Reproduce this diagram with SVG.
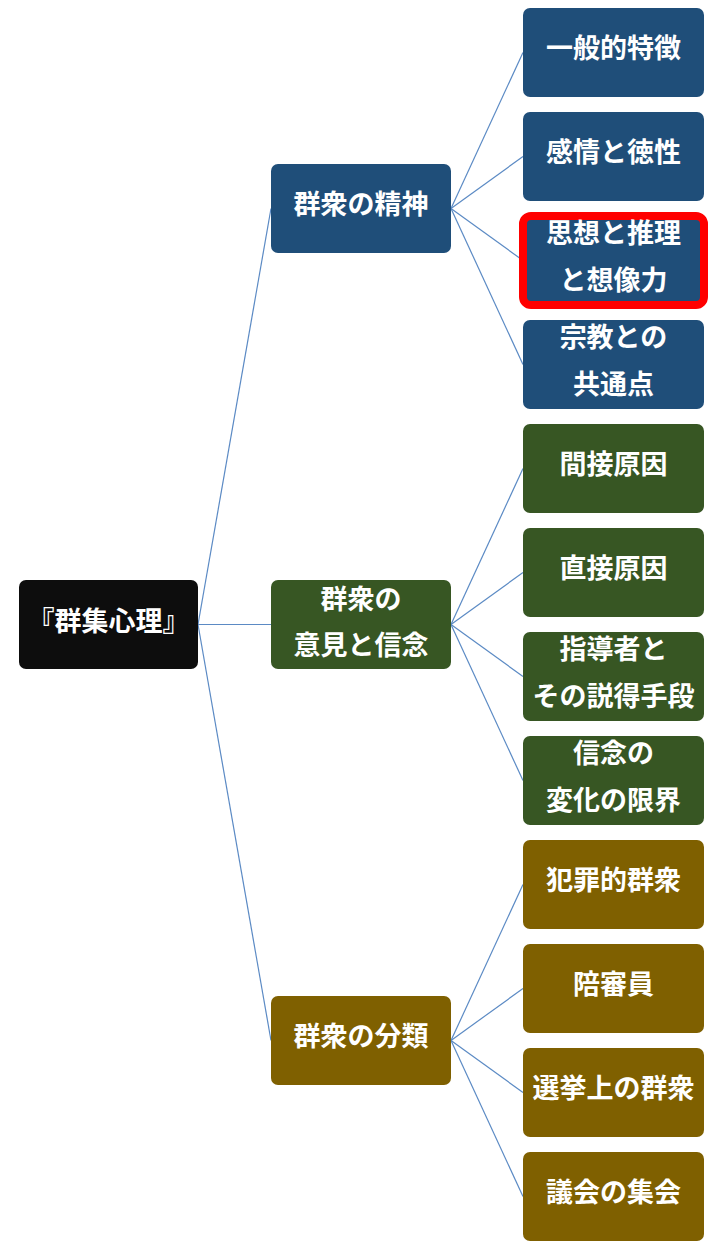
<svg xmlns="http://www.w3.org/2000/svg" width="721" height="1248" viewBox="0 0 721 1248">
<style>
.t{font-family:"Noto Sans CJK JP","Noto Sans CJK SC",sans-serif;font-weight:bold;font-size:27px;fill:#ffffff;text-anchor:middle}
.blue{fill:#1f4e79}
.green{fill:#375623}
.gold{fill:#7f6000}
.root{fill:#0d0d0d}
.c line{stroke:#5b8ac4;stroke-width:1.2}
</style>
<rect width="721" height="1248" fill="#ffffff"/>
<g class="c" id="connectors">
<line x1="198" y1="624.5" x2="271" y2="208.5"/>
<line x1="198" y1="624.5" x2="271" y2="624.5"/>
<line x1="198" y1="624.5" x2="271" y2="1040.5"/>
<line x1="451" y1="208.5" x2="523" y2="52.5"/>
<line x1="451" y1="208.5" x2="523" y2="156.5"/>
<line x1="451" y1="208.5" x2="523" y2="260.5"/>
<line x1="451" y1="208.5" x2="523" y2="364.5"/>
<line x1="451" y1="624.5" x2="523" y2="468.5"/>
<line x1="451" y1="624.5" x2="523" y2="572.5"/>
<line x1="451" y1="624.5" x2="523" y2="676.5"/>
<line x1="451" y1="624.5" x2="523" y2="780.5"/>
<line x1="451" y1="1040.5" x2="523" y2="884.5"/>
<line x1="451" y1="1040.5" x2="523" y2="988.5"/>
<line x1="451" y1="1040.5" x2="523" y2="1092.5"/>
<line x1="451" y1="1040.5" x2="523" y2="1196.5"/>
</g>
<g id="root"><rect class="root" x="19" y="580" width="179" height="89" rx="7"/><text class="t" x="108.5" y="631">『群集心理』</text></g>
<g id="n1"><rect class="blue" x="271" y="164" width="180" height="89" rx="7"/><text class="t" x="361" y="214">群衆の精神</text></g>
<g id="n2"><rect class="green" x="271" y="580" width="180" height="89" rx="7"/><text class="t" x="361" y="609">群衆の</text><text class="t" x="361" y="655">意見と信念</text></g>
<g id="n3"><rect class="gold" x="271" y="996" width="180" height="89" rx="7"/><text class="t" x="361" y="1046">群衆の分類</text></g>
<g id="a1"><rect class="blue" x="523" y="8" width="181" height="89" rx="7"/><text class="t" x="613.5" y="58">一般的特徴</text></g>
<g id="a2"><rect class="blue" x="523" y="112" width="181" height="89" rx="7"/><text class="t" x="613.5" y="162">感情と徳性</text></g>
<g id="a3"><rect class="blue" x="523" y="216" width="181" height="89" rx="8" stroke="#ff0000" stroke-width="8"/><text class="t" x="613.5" y="243">思想と推理</text><text class="t" x="613.5" y="290">と想像力</text></g>
<g id="a4"><rect class="blue" x="523" y="320" width="181" height="89" rx="7"/><text class="t" x="613.5" y="347">宗教との</text><text class="t" x="613.5" y="394">共通点</text></g>
<g id="b1"><rect class="green" x="523" y="424" width="181" height="89" rx="7"/><text class="t" x="613.5" y="474">間接原因</text></g>
<g id="b2"><rect class="green" x="523" y="528" width="181" height="89" rx="7"/><text class="t" x="613.5" y="578">直接原因</text></g>
<g id="b3"><rect class="green" x="523" y="632" width="181" height="89" rx="7"/><text class="t" x="613.5" y="659">指導者と</text><text class="t" x="613.5" y="706">その説得手段</text></g>
<g id="b4"><rect class="green" x="523" y="736" width="181" height="89" rx="7"/><text class="t" x="613.5" y="763">信念の</text><text class="t" x="613.5" y="810">変化の限界</text></g>
<g id="c1"><rect class="gold" x="523" y="840" width="181" height="89" rx="7"/><text class="t" x="613.5" y="890">犯罪的群衆</text></g>
<g id="c2"><rect class="gold" x="523" y="944" width="181" height="89" rx="7"/><text class="t" x="613.5" y="994">陪審員</text></g>
<g id="c3"><rect class="gold" x="523" y="1048" width="181" height="89" rx="7"/><text class="t" x="613.5" y="1098">選挙上の群衆</text></g>
<g id="c4"><rect class="gold" x="523" y="1152" width="181" height="89" rx="7"/><text class="t" x="613.5" y="1202">議会の集会</text></g>
</svg>
